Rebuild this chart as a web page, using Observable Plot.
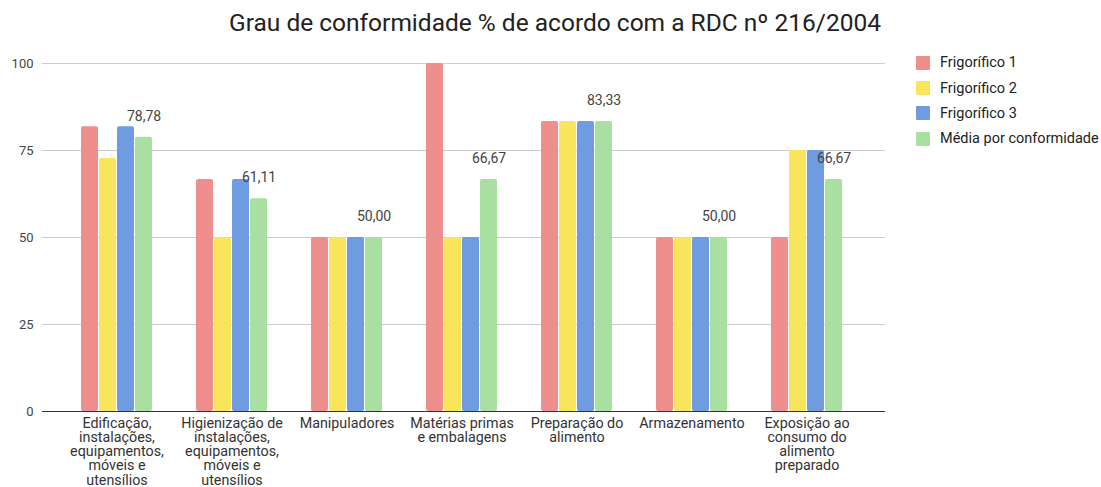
<!DOCTYPE html>
<html>
<head>
<meta charset="utf-8">
<script src="https://cdn.jsdelivr.net/npm/d3@7"></script>
<script src="https://cdn.jsdelivr.net/npm/@observablehq/plot@0.6"></script>
<style>
  body { margin: 0; background: #fff; font-family: Roboto, sans-serif; }
  #wrap { position: relative; width: 1101px; height: 487px; overflow: hidden; }
  #title { position: absolute; left: 0; width: 1110px; top: 8px; text-align: center; font-size: 24.5px; color: #222; }
  .layer { position: absolute; left: 0; top: 40px; }
  #legend { position: absolute; left: 916px; top: 50px; font-size: 14.5px; color: #222; }
  .item { display: flex; align-items: center; height: 25.4px; }
  .sw { width: 14px; height: 14px; margin-right: 10px; border-radius: 1px; }
</style>
</head>
<body>
<div id="wrap">
  <div id="title">Grau de conformidade % de acordo com a RDC nº 216/2004</div>
  <div id="grid" class="layer"></div>
  <div id="bars" class="layer"></div>
  <div id="legend"></div>
</div>
<script>
const categories = [
  "Edificação, instalações, equipamentos, móveis e utensílios",
  "Higienização de instalações, equipamentos, móveis e utensílios",
  "Manipuladores",
  "Matérias primas e embalagens",
  "Preparação do alimento",
  "Armazenamento",
  "Exposição ao consumo do alimento preparado"
];
const tickLabels = [
  "Edificação,\ninstalações,\nequipamentos,\nmóveis e\nutensílios",
  "Higienização de\ninstalações,\nequipamentos,\nmóveis e\nutensílios",
  "Manipuladores",
  "Matérias primas\ne embalagens",
  "Preparação do\nalimento",
  "Armazenamento",
  "Exposição ao\nconsumo do\nalimento\npreparado"
];
const series = ["Frigorífico 1", "Frigorífico 2", "Frigorífico 3", "Média por conformidade"];
const colors = ["#ee8f8d", "#f9e55b", "#6f9be0", "#a9dfa1"];
const frigorifico1 = [81.81, 66.67, 50, 100, 83.33, 50, 50];
const frigorifico2 = [72.72, 50, 50, 50, 83.33, 50, 75];
const frigorifico3 = [81.81, 66.67, 50, 50, 83.33, 50, 75];
const media = [78.78, 61.11, 50, 66.67, 83.33, 50, 66.67];
const yTicks = [0, 25, 50, 75, 100];

const seriesValues = [frigorifico1, frigorifico2, frigorifico3, media];
const data = [];
categories.forEach((c, i) => {
  series.forEach((s, j) => data.push({category: c, series: s, value: seriesValues[j][i]}));
});
const fmt = v => v.toFixed(2).replace(".", ",");

const common = {
  width: 900,
  height: 447,
  marginTop: 23,
  marginBottom: 76,
  style: {fontFamily: "Roboto, sans-serif", fontSize: "13px", color: "#444", background: "transparent", overflow: "visible"}
};

// Background layer: gridlines, y tick labels
const gridPlot = Plot.plot({
  ...common,
  marginLeft: 42,
  marginRight: 15,
  y: {domain: [0, 100], axis: null},
  marks: [
    Plot.ruleY(yTicks.filter(d => d > 0), {stroke: "#ccc", strokeWidth: 1}),
    Plot.text(yTicks, {y: d => d, text: d => String(d), frameAnchor: "left", textAnchor: "end", dx: -9, fill: "#444", fontSize: 13})
  ]
});
document.getElementById("grid").appendChild(gridPlot);

// Foreground layer: grouped bars with category facets
const barPlot = Plot.plot({
  ...common,
  marginLeft: 58,
  marginRight: 35,
  fx: {domain: categories, padding: 0, label: null},
  x: {domain: series, paddingInner: 0.08, paddingOuter: 1.07, axis: null},
  y: {domain: [0, 100], axis: null},
  color: {domain: series, range: colors},
  marks: [
    Plot.barY(data, {fx: "category", x: "series", y: "value", fill: "series", rx: 2}),
    Plot.text(data.filter(d => d.series === series[3]), {fx: "category", x: "series", y: "value", text: d => fmt(d.value), dy: -21, fill: "#444", fontSize: 14}),
    Plot.axisFx({anchor: "bottom", tickSize: 0, tickPadding: 7, lineHeight: 0.98, fontSize: 14.3, label: null, fill: "#333",
      tickFormat: d => tickLabels[categories.indexOf(d)]})
  ]
});
document.getElementById("bars").appendChild(barPlot);

// Baseline on top of bars
const basePlot = Plot.plot({
  ...common,
  marginLeft: 42,
  marginRight: 15,
  y: {domain: [0, 100], axis: null},
  marks: [Plot.ruleY([0], {stroke: "#333", strokeWidth: 1})]
});
const baseDiv = document.createElement("div");
baseDiv.className = "layer";
baseDiv.appendChild(basePlot);
document.getElementById("wrap").appendChild(baseDiv);

const legend = document.getElementById("legend");
series.forEach((s, i) => {
  const item = document.createElement("div");
  item.className = "item";
  const sw = document.createElement("div");
  sw.className = "sw";
  sw.style.background = colors[i];
  const lab = document.createElement("span");
  lab.textContent = s;
  item.appendChild(sw);
  item.appendChild(lab);
  legend.appendChild(item);
});
</script>
</body>
</html>
